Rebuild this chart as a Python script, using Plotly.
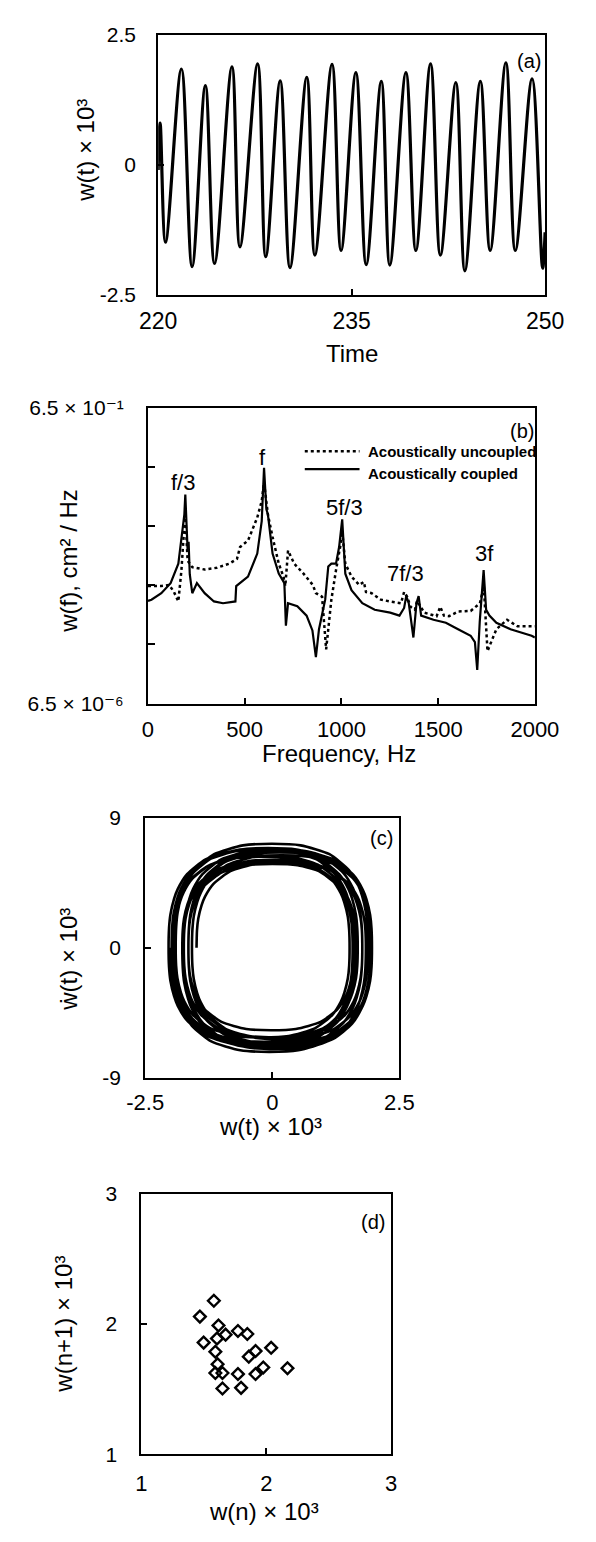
import numpy as np
import plotly.graph_objects as go

W, H = 596, 1542
FONT = "Liberation Sans, Arial, Helvetica, DejaVu Sans, sans-serif"

# ---------------- (a) time series: turning points
time_a = [220.00, 220.15, 220.57, 221.80, 222.63, 223.66, 224.37, 225.72, 226.34,
          227.71, 228.34, 229.46, 230.22, 231.52, 232.15, 233.48, 234.18, 235.33,
          236.13, 237.30, 237.96, 239.21, 239.98, 241.12, 241.88, 243.08, 243.78,
          244.98, 245.74, 246.96, 247.69, 248.99, 249.81, 250.00]
w_a = [-0.10, 0.80, -1.49, 1.84, -1.96, 1.52, -1.90, 1.88, -1.58,
       1.94, -1.77, 1.61, -1.98, 1.68, -1.74, 1.93, -1.65, 1.77,
       -1.92, 1.60, -1.93, 1.77, -1.65, 1.94, -1.74, 1.58, -2.04,
       1.60, -1.65, 1.96, -1.65, 1.65, -1.99, -1.30]

# ---------------- (b) spectra (frequency in Hz, log10 of PSD)
f_coupled = [0, 18, 69, 117, 157, 173, 188, 193, 199, 205, 210, 216, 229, 253, 293,
             341, 388, 452, 456, 517, 565, 588, 600, 612, 620, 644, 676, 705, 713,
             724, 772, 820, 850, 868, 884, 916, 932, 948, 972, 988, 1004, 1012, 1020,
             1052, 1108, 1172, 1252, 1300, 1324, 1335, 1348, 1372, 1388, 1399, 1412,
             1476, 1540, 1603, 1668, 1690, 1702, 1715, 1735, 1748, 1765, 1801, 1874,
             1983, 2000]
log_coupled = [-3.45, -3.43, -3.32, -3.15, -2.82, -2.37, -1.99, -1.65, -2.35, -2.60,
               -2.45, -3.00, -3.32, -3.15, -3.32, -3.46, -3.49, -3.46, -3.20, -3.04,
               -2.65, -2.10, -1.20, -1.90, -1.99, -2.65, -2.99, -3.15, -3.87, -3.49,
               -3.54, -3.70, -3.95, -4.40, -3.93, -3.43, -2.87, -2.82, -2.82, -2.54,
               -2.07, -2.49, -2.99, -3.27, -3.49, -3.60, -3.65, -3.70, -3.57, -3.37,
               -3.49, -4.07, -3.49, -3.37, -3.70, -3.77, -3.82, -3.93, -4.04, -4.15,
               -4.62, -3.80, -2.93, -3.60, -3.70, -3.82, -3.93, -4.04, -4.07]
f_uncoupled = [0, 18, 69, 109, 133, 157, 173, 184, 193, 205, 229, 293, 356, 421, 460,
               476, 517, 565, 588, 600, 620, 644, 676, 700, 710, 724, 756, 804, 852,
               868, 900, 921, 948, 972, 996, 1004, 1020, 1052, 1092, 1116, 1127, 1156,
               1204, 1252, 1308, 1324, 1340, 1357, 1380, 1391, 1428, 1492, 1511, 1530,
               1556, 1604, 1668, 1716, 1736, 1755, 1801, 1856, 1910, 2000]
log_uncoupled = [-3.20, -3.20, -3.20, -3.18, -3.29, -3.46, -2.93, -2.37, -1.99, -2.77,
                 -2.88, -2.92, -2.89, -2.82, -2.74, -2.54, -2.43, -2.04, -1.76, -1.45,
                 -1.99, -2.37, -2.82, -3.04, -3.20, -2.60, -2.82, -2.99, -3.18, -3.32,
                 -3.38, -4.27, -3.43, -2.93, -2.49, -2.27, -2.82, -3.04, -3.18, -3.13,
                 -3.30, -3.32, -3.43, -3.46, -3.49, -3.30, -3.38, -3.55, -3.60, -3.45,
                 -3.65, -3.71, -3.55, -3.70, -3.71, -3.63, -3.62, -3.49, -3.20, -4.30,
                 -3.93, -3.77, -3.88, -3.88]
peak_names = ["f/3", "f", "5f/3", "7f/3", "3f"]
peak_label_f = [183, 590, 1015, 1332, 1737]
peak_label_log = [-1.44, -1.03, -1.87, -2.99, -2.65]
ylog_major = [6.5e-6, 6.5e-1]
ylog_major_text = ["6.5 × 10⁻⁶", "6.5 × 10⁻¹"]
ylog_minor = [6.5e-5, 6.5e-4, 6.5e-3, 6.5e-2]

# ---------------- (c) phase portrait: velocity extreme of each half swing
vel_extrema = [5.9, -7.2, 6.3, -6.2, 7.2, -6.3, 6.4, -7.0, 6.0, -6.6, 6.8, -6.2,
               6.8, -6.6, 6.1, -6.9, 6.4, -6.5, 6.9, -6.2, 6.6, -6.9, 5.9, -6.7,
               6.8, -5.7, 6.7, -6.7, 5.8, -6.8]
# normalised half-loop profile (fraction of swing, fraction of peak velocity)
profile_s = [0.0, 0.0025, 0.01, 0.03, 0.05, 0.10, 0.20, 0.35, 0.50,
             0.65, 0.80, 0.90, 0.95, 0.97, 0.99, 0.9975, 1.0]
profile_h = [0.0, 0.20, 0.34, 0.50, 0.60, 0.75, 0.90, 0.985, 1.00,
             0.985, 0.90, 0.75, 0.60, 0.50, 0.34, 0.20, 0.0]

# ---------------- (d) return map
wn = [1.580, 1.468, 1.617, 1.674, 1.773, 1.848, 1.498, 1.605, 1.592, 1.860, 1.914,
      2.039, 1.610, 1.592, 1.649, 1.773, 1.914, 1.976, 2.170, 1.649, 1.798]
wn1 = [2.180, 2.058, 1.990, 1.919, 1.947, 1.924, 1.858, 1.889, 1.788, 1.750, 1.793,
       1.818, 1.692, 1.624, 1.624, 1.616, 1.616, 1.667, 1.661, 1.505, 1.510]

# build trajectory for (c) from the turning points of (a)
turn = w_a[2:-1]
cx, cy = [], []
for k in range(len(turn) - 1):
    a, b, v = turn[k], turn[k + 1], vel_extrema[k]
    for s, h in zip(profile_s[:-1], profile_h[:-1]):
        cx.append(a + s * (b - a))
        cy.append(h * v)
cx.append(turn[-1]); cy.append(0.0)


def dx(a, b):
    return [a / W, b / W]


def dy(top, bottom):
    return [1 - bottom / H, 1 - top / H]


fig = go.Figure()
fig.add_trace(go.Scatter(x=time_a, y=w_a, mode="lines", xaxis="x", yaxis="y",
                         line=dict(color="black", width=3.2, shape="spline", smoothing=1.0)))
fig.add_trace(go.Scatter(x=f_uncoupled, y=10 ** np.array(log_uncoupled), mode="lines",
                         xaxis="x2", yaxis="y2",
                         line=dict(color="black", width=2.5, dash="dot")))
fig.add_trace(go.Scatter(x=f_coupled, y=10 ** np.array(log_coupled), mode="lines",
                         xaxis="x2", yaxis="y2", line=dict(color="black", width=2.2)))
fig.add_trace(go.Scatter(x=cx, y=cy, mode="lines", xaxis="x3", yaxis="y3",
                         line=dict(color="black", width=2.6, shape="spline", smoothing=0.6)))
fig.add_trace(go.Scatter(x=wn, y=wn1, mode="markers", xaxis="x4", yaxis="y4",
                         marker=dict(symbol="diamond-open", size=9, color="black",
                                     line=dict(color="black", width=2.4))))

base = dict(showline=True, mirror=True, linecolor="black", linewidth=2,
            ticks="inside", ticklen=6, tickwidth=1.5, tickcolor="black",
            showgrid=False, zeroline=False, color="black")

fig.update_layout(
    width=W, height=H, margin=dict(l=0, r=0, t=0, b=0),
    paper_bgcolor="white", plot_bgcolor="white", showlegend=False,
    font=dict(family=FONT, color="black", size=20),
    xaxis=dict(base, domain=dx(150, 567), anchor="y", range=[220, 250],
               tickvals=[220, 235, 250], ticktext=["220", "235", "250"],
               tickfont=dict(size=23), ticklabelstandoff=5),
    yaxis=dict(base, domain=dy(23, 287), anchor="x", range=[-2.5, 2.5],
               tickvals=[-2.5, 0, 2.5], ticktext=["-2.5", "0", "2.5"],
               tickfont=dict(size=21), ticklabelstandoff=16),
    xaxis2=dict(base, domain=dx(139, 556), anchor="y2", range=[0, 2000],
                tickvals=[0, 500, 1000, 1500, 2000],
                ticktext=["0", "500", "1000", "1500", "2000"],
                tickfont=dict(size=22), ticklabelstandoff=5),
    yaxis2=dict(base, domain=dy(402, 702), anchor="x2", type="log",
                range=[np.log10(6.5e-6) - 1e-6, np.log10(6.5e-1) + 1e-6],
                tickvals=ylog_major, ticktext=ylog_major_text, tickfont=dict(size=21),
                ticklabelstandoff=18,
                minor=dict(tickmode="array", tickvals=ylog_minor, ticks="inside",
                           ticklen=7, tickwidth=1.5, tickcolor="black", showgrid=False)),
    xaxis3=dict(base, domain=dx(136, 410), anchor="y3", range=[-2.5, 2.5],
                tickvals=[-2.5, 0, 2.5], ticktext=["-2.5", "0", "2.5"],
                tickfont=dict(size=22), ticklabelstandoff=4),
    yaxis3=dict(base, domain=dy(818, 1082), anchor="x3", range=[-9, 9],
                tickvals=[-9, 0, 9], ticktext=["-9", "0", "9"],
                tickfont=dict(size=21), ticklabelstandoff=18),
    xaxis4=dict(base, domain=dx(132, 401), anchor="y4", range=[1, 3],
                tickvals=[1, 2, 3], ticktext=["1", "2", "3"],
                tickfont=dict(size=22), ticklabelstandoff=8),
    yaxis4=dict(base, domain=dy(1200, 1464), anchor="x4", range=[1, 3],
                tickvals=[1, 2, 3], ticktext=["1", "2", "3"],
                tickfont=dict(size=21), ticklabelstandoff=18),
)


def px(x, y, text, size=22, angle=0, xanchor="center", yanchor="middle", family=FONT,
       weight="normal"):
    fig.add_annotation(x=x / W, y=1 - y / H, xref="paper", yref="paper", text=text,
                       showarrow=False, textangle=angle, xanchor=xanchor, yanchor=yanchor,
                       font=dict(size=size, family=family, color="black", weight=weight))


# axis titles
px(359, 347, "Time", 24)
px(72, 140, "w(t) × 10³", 24, angle=-90)
px(345, 753, "Frequency, Hz", 24)
px(54, 557, "w(f), cm² / Hz", 24, angle=-90)
px(271, 1131, "w(t) × 10³", 24)
px(54, 962, "ẇ(t) × 10³", 24, angle=-90)
px(264, 1522, "w(n) × 10³", 24)
px(48, 1332, "w(n+1) × 10³", 24, angle=-90)

# panel tags
px(550, 50, "(a)", 20)
px(542, 425, "(b)", 20)
px(391, 838, "(c)", 20)
px(382, 1228, "(d)", 20)

# peak labels in (b)
for name, fx, ly in zip(peak_names, peak_label_f, peak_label_log):
    fig.add_annotation(x=fx, y=ly, xref="x2", yref="y2", text=name, showarrow=False,
                       font=dict(size=22, family=FONT, color="black"))

# legend of (b)
fig.add_shape(type="line", xref="paper", yref="paper", x0=308 / W, x1=367 / W,
              y0=1 - 446 / H, y1=1 - 446 / H, line=dict(color="black", width=2.5, dash="dot"))
fig.add_shape(type="line", xref="paper", yref="paper", x0=308 / W, x1=367 / W,
              y0=1 - 464 / H, y1=1 - 464 / H, line=dict(color="black", width=2.2))
NARROW = "Liberation Sans Narrow, Arial Narrow, Liberation Sans, sans-serif"
px(374, 446, "Acoustically uncoupled", 15, xanchor="left", family=NARROW, weight="bold")
px(374, 468, "Acoustically coupled", 15, xanchor="left", family=NARROW, weight="bold")

fig.write_html("out.html")
